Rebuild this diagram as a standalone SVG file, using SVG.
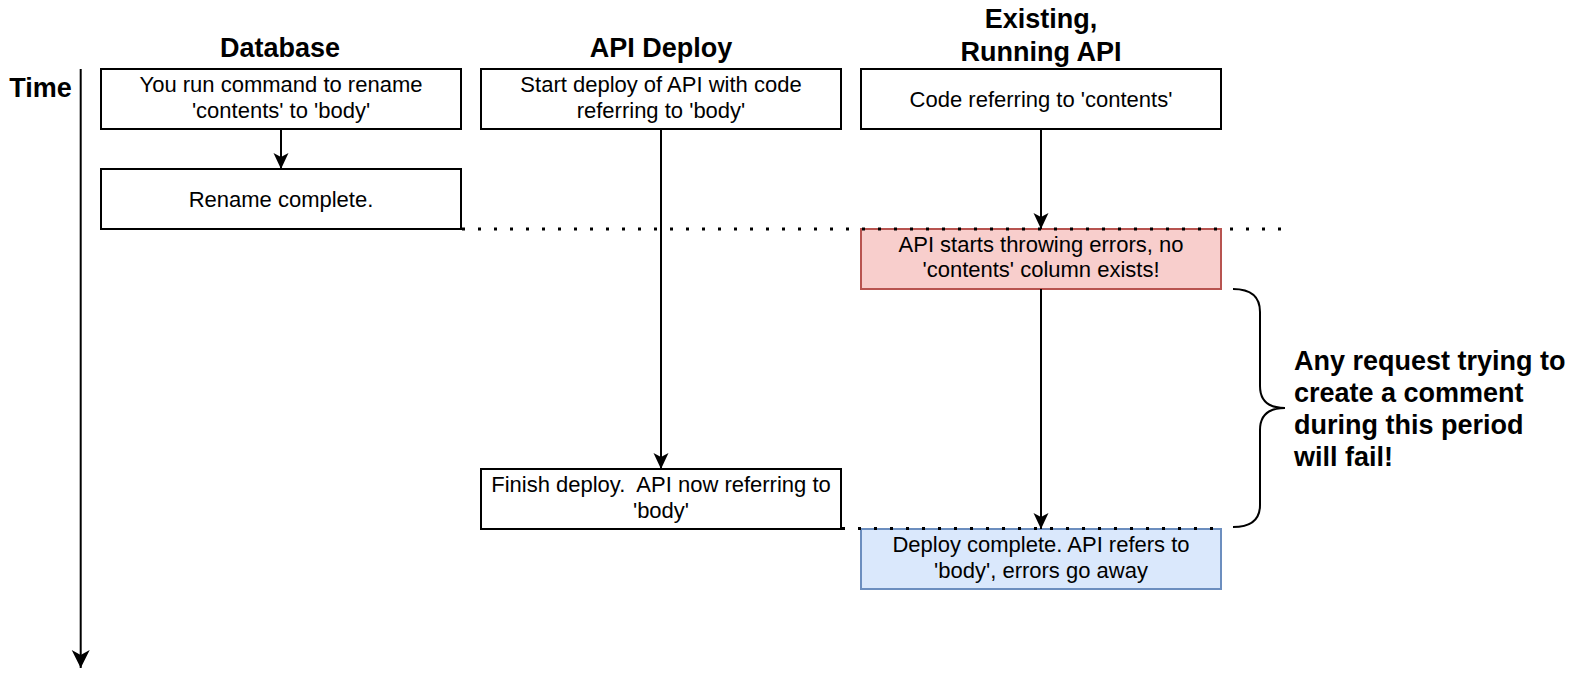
<svg xmlns="http://www.w3.org/2000/svg" width="1582" height="686" viewBox="0 0 1582 686">
<style>
  text { font-family: "Liberation Sans", Arial, Helvetica, sans-serif; fill: #000; }
  .h { font-size: 27px; font-weight: bold; text-anchor: middle; }
  .note { font-size: 27px; font-weight: bold; }
  .b { font-size: 22px; text-anchor: middle; white-space: pre; }
  .box { fill: #fff; stroke: #000; stroke-width: 2; }
  .red { fill: #f8cecc; stroke: #b85450; stroke-width: 2; }
  .blue { fill: #dae8fc; stroke: #6c8ebf; stroke-width: 2; }
  .edge { fill: none; stroke: #000; stroke-width: 2; }
  .dot { fill: none; stroke: #000; stroke-width: 3; stroke-dasharray: 3 13; }
</style>
<defs>
  <marker id="arr" markerUnits="userSpaceOnUse" viewBox="-20 -10 22 20" refX="0" refY="0" markerWidth="22" markerHeight="20" orient="auto">
    <path d="M -16 -7.5 L 0 0 L -16 7.5 L -12 0 Z" fill="#000"/>
  </marker>
  <marker id="arrBig" markerUnits="userSpaceOnUse" viewBox="-22 -11 24 22" refX="0" refY="0" markerWidth="24" markerHeight="22" orient="auto">
    <path d="M -18 -9 L 0 0 L -18 9 L -13 0 Z" fill="#000"/>
  </marker>
</defs>
<rect width="1582" height="686" fill="#fff"/>

<g id="headings">
  <text class="h" x="280" y="57">Database</text>
  <text class="h" x="661" y="57">API Deploy</text>
  <text class="h" x="1041" y="28">Existing,</text>
  <text class="h" x="1041" y="61">Running API</text>
  <text class="h" x="40.5" y="97">Time</text>
</g>

<g id="db-rename">
  <rect class="box" x="101" y="69" width="360" height="60"/>
  <text class="b" x="281" y="92">You run command to rename</text>
  <text class="b" x="281" y="117.5">'contents' to 'body'</text>
</g>
<g id="db-complete">
  <rect class="box" x="101" y="169" width="360" height="60"/>
  <text class="b" x="281" y="206.5">Rename complete.</text>
</g>
<g id="api-start">
  <rect class="box" x="481" y="69" width="360" height="60"/>
  <text class="b" x="661" y="92">Start deploy of API with code</text>
  <text class="b" x="661" y="117.5">referring to 'body'</text>
</g>
<g id="api-finish">
  <rect class="box" x="481" y="469" width="360" height="60"/>
  <text class="b" x="661" y="492">Finish deploy.  API now referring to</text>
  <text class="b" x="661" y="517.5">'body'</text>
</g>
<g id="existing-code">
  <rect class="box" x="861" y="69" width="360" height="60"/>
  <text class="b" x="1041" y="106.5">Code referring to 'contents'</text>
</g>
<g id="existing-errors">
  <rect class="red" x="861" y="229" width="360" height="60"/>
  <text class="b" x="1041" y="251.5">API starts throwing errors, no</text>
  <text class="b" x="1041" y="277">'contents' column exists!</text>
</g>
<g id="existing-fixed">
  <rect class="blue" x="861" y="529" width="360" height="60"/>
  <text class="b" x="1041" y="552">Deploy complete. API refers to</text>
  <text class="b" x="1041" y="577.5">'body', errors go away</text>
</g>
<g id="note">
  <text class="note" x="1294" y="370">Any request trying to</text>
  <text class="note" x="1294" y="402">create a comment</text>
  <text class="note" x="1294" y="434">during this period</text>
  <text class="note" x="1294" y="466">will fail!</text>
</g>

<g id="connectors">
  <line class="edge" x1="80.7" y1="69" x2="80.7" y2="668" stroke-width="2.5" marker-end="url(#arrBig)"/>
  <line class="edge" x1="281" y1="129" x2="281" y2="169" marker-end="url(#arr)"/>
  <line class="edge" x1="661" y1="129" x2="661" y2="469" marker-end="url(#arr)"/>
  <line class="edge" x1="1041" y1="129" x2="1041" y2="229" marker-end="url(#arr)"/>
  <line class="edge" x1="1041" y1="289" x2="1041" y2="529" marker-end="url(#arr)"/>
  <line class="dot" x1="462" y1="229" x2="1282" y2="229"/>
  <line class="dot" x1="842" y1="528.5" x2="1224" y2="528.5"/>
  <path class="edge" d="M 1233 289 Q 1260 289 1260 312 L 1260 386 Q 1260 408 1285 408 Q 1260 408 1260 430 L 1260 505 Q 1260 527 1233 527"/>
</g>
</svg>
